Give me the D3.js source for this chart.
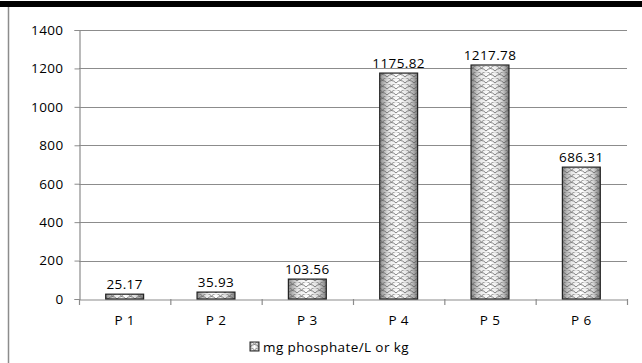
<!DOCTYPE html>
<html><head><meta charset="utf-8">
<script src="https://cdn.jsdelivr.net/npm/d3@7/dist/d3.min.js"></script>
<style>body{margin:0;background:#fff}svg{display:block}</style>
</head><body>
<script>
const categories = ["P 1","P 2","P 3","P 4","P 5","P 6"];
const values = [25.17, 35.93, 103.56, 1175.82, 1217.78, 686.31];
const yTicks = [0,200,400,600,800,1000,1200,1400];
const seriesName = "mg phosphate/L or kg";

const W = 642, H = 363;
const svg = d3.select("body").append("svg").attr("width", W).attr("height", H);
const font = "'Open Sans', Lato, sans-serif";
const fs = 13.5, ls = "0.4px";

const defs = svg.append("defs");
const grad = defs.append("linearGradient").attr("id","cyl").attr("x1","0").attr("x2","1").attr("y1","0").attr("y2","0");
[[0,"#8a8a8a"],[0.25,"#e8e8e8"],[0.5,"#ffffff"],[0.8,"#d8d8d8"],[1,"#7a7a7a"]].forEach(([o,c])=>grad.append("stop").attr("offset",o).attr("stop-color",c));
const pat = defs.append("pattern").attr("id","scales").attr("patternUnits","userSpaceOnUse").attr("width",9).attr("height",6);
pat.append("path").attr("d","M0,5 Q4.5,0 9,5 M-4.5,2 Q0,-3 4.5,2 M4.5,2 Q9,-3 13.5,2").attr("fill","none").attr("stroke","#555").attr("stroke-width",0.9).attr("opacity",0.8);

// frame
svg.append("rect").attr("x",0).attr("y",1).attr("width",W).attr("height",6).attr("fill","#000");
svg.append("line").attr("x1",8.5).attr("x2",8.5).attr("y1",7).attr("y2",H).attr("stroke","#8c8c8c").attr("stroke-width",1.5);

const x = d3.scaleBand().domain(categories).range([79,627]).paddingInner(0.585).paddingOuter(0.2925);
const y = d3.scaleLinear().domain([0,1400]).range([299,30]);

// gridlines
svg.append("g").selectAll("line").data(yTicks.filter(d=>d>0)).join("line")
  .attr("x1",79).attr("x2",627).attr("y1",d=>Math.round(y(d))+0.5).attr("y2",d=>Math.round(y(d))+0.5)
  .attr("stroke","#8c8c8c").attr("stroke-width",1.2);

// y axis
const ya = svg.append("g").attr("transform","translate(79.5,0)")
  .call(d3.axisLeft(y).tickValues(yTicks).tickSize(5).tickPadding(11).tickFormat(d3.format("d")));
ya.select(".domain").attr("stroke","#8c8c8c").attr("stroke-width",1.2);
ya.selectAll(".tick line").attr("stroke","#8c8c8c");
ya.selectAll("text").attr("font-family",font).attr("font-size",fs).attr("letter-spacing",ls).attr("fill","#000");

// x axis
const xa = svg.append("g").attr("transform","translate(0,299.5)")
  .call(d3.axisBottom(x).tickSize(0).tickPadding(16));
xa.select(".domain").attr("stroke","#8c8c8c").attr("stroke-width",1.2);
xa.selectAll("text").attr("font-family",font).attr("font-size",fs).attr("letter-spacing",ls).attr("fill","#000");
const step = x.step();
svg.append("g").selectAll("line").data(d3.range(categories.length+1)).join("line")
  .attr("x1",i=>79.5+i*step).attr("x2",i=>79.5+i*step).attr("y1",299).attr("y2",305)
  .attr("stroke","#8c8c8c").attr("stroke-width",1.2);

// bars
const bars = svg.append("g");
const data = categories.map((c,i)=>({c, v: values[i]}));
bars.selectAll("rect.g").data(data).join("rect").attr("class","g")
  .attr("x",d=>x(d.c)).attr("width",x.bandwidth()).attr("y",d=>y(d.v)).attr("height",d=>y(0)-y(d.v))
  .attr("fill","url(#cyl)");
bars.selectAll("rect.p").data(data).join("rect").attr("class","p")
  .attr("x",d=>x(d.c)).attr("width",x.bandwidth()).attr("y",d=>y(d.v)).attr("height",d=>y(0)-y(d.v))
  .attr("fill","url(#scales)").attr("stroke","#222").attr("stroke-width",1.2);

// labels
svg.append("g").selectAll("text").data(data).join("text")
  .attr("x",d=>x(d.c)+x.bandwidth()/2).attr("y",d=>y(d.v)-5)
  .attr("text-anchor","middle").attr("font-family",font).attr("font-size",fs).attr("letter-spacing",ls).attr("fill","#000")
  .text(d=>d.v.toFixed(2));

// legend
const lg = svg.append("g").attr("transform","translate(250,342)");
lg.append("rect").attr("x",0).attr("y",0).attr("width",9).attr("height",9).attr("fill","url(#cyl)");
lg.append("rect").attr("x",0).attr("y",0).attr("width",9).attr("height",9).attr("fill","url(#scales)").attr("stroke","#222");
lg.append("text").attr("x",13).attr("y",10).attr("font-family",font).attr("font-size",fs).attr("letter-spacing",ls).attr("fill","#000").text(seriesName);
</script>
</body></html>
